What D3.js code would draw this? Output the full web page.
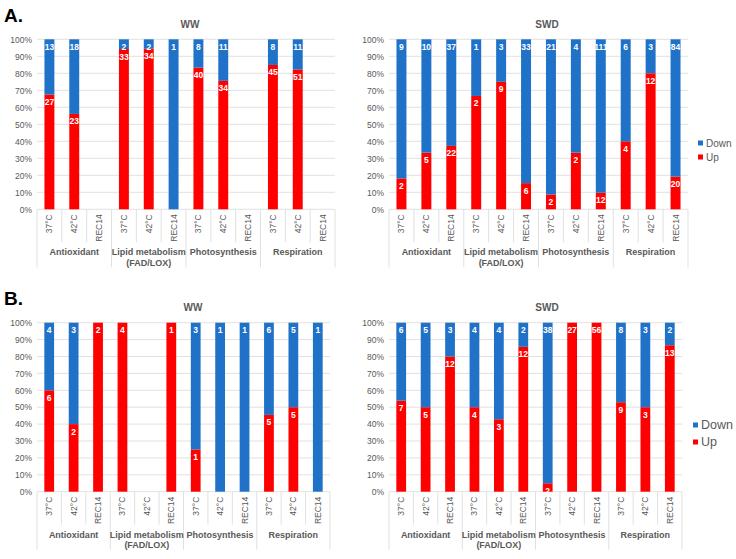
<!DOCTYPE html>
<html><head><meta charset="utf-8">
<script src="https://cdn.jsdelivr.net/npm/d3@7/dist/d3.min.js"></script>
<style>body{margin:0;background:#fff}svg{display:block;font-family:"Liberation Sans",Arial,sans-serif}</style>
</head><body><svg id="c" width="736" height="559"></svg>
<script>
const groups = ["Antioxidant", "Lipid metabolism|(FAD/LOX)", "Photosynthesis", "Respiration"];
const conditions = ["37°C", "42°C", "REC14"];
const yTicks = [0,0.1,0.2,0.3,0.4,0.5,0.6,0.7,0.8,0.9,1];
const seriesNames = ["Down", "Up"];

const aWW_up   = [27,23,0, 33,34,0, 40,34,0, 45,51,0];
const aWW_down = [13,18,0, 2,2,1, 8,11,0, 8,11,0];
const aSWD_up   = [2,5,22, 2,9,6, 2,2,12, 4,12,20];
const aSWD_down = [9,10,37, 1,3,33, 21,4,111, 6,3,84];
const bWW_up   = [6,2,2, 4,0,1, 1,0,0, 5,5,0];
const bWW_down = [4,3,0, 0,0,0, 3,1,1, 6,5,1];
const bSWD_up   = [7,5,12, 4,3,12, 2,27,56, 9,3,13];
const bSWD_down = [6,5,3, 4,4,2, 38,0,0, 8,3,2];

const BLUE = "#1f72c8", RED = "#ff0000", GRAY = "#595959", GRID = "#d9d9d9";
const svg = d3.select("#c");

const panels = [
  {title:"WW", up:aWW_up, down:aWW_down, L:37, R:335, T:39.3, B:209.3, tx:190, ty:28},
  {title:"SWD", up:aSWD_up, down:aSWD_down, L:389, R:688, T:39.3, B:209.3, tx:547, ty:28,
   legend:{x:698, y1:143, y2:157, fs:10, sq:5}},
  {title:"WW", up:bWW_up, down:bWW_down, L:37, R:330, T:322.7, B:491.7, tx:193, ty:311},
  {title:"SWD", up:bSWD_up, down:bSWD_down, L:389, R:682, T:322.7, B:491.7, tx:547, ty:311,
   legend:{x:693, y1:425, y2:442, fs:12.5, sq:5}}
];

svg.append("text").attr("x",4).attr("y",22).attr("font-size",19).attr("font-weight","bold").attr("fill","#000").text("A.");
svg.append("text").attr("x",4).attr("y",305).attr("font-size",19).attr("font-weight","bold").attr("fill","#000").text("B.");

panels.forEach(p => {
  const g = svg.append("g");
  const keys = [];
  groups.forEach(gr => conditions.forEach(c => keys.push(gr + "::" + c)));
  const x = d3.scaleBand().domain(keys).range([p.L, p.R]).paddingInner(0.6).paddingOuter(0.3);
  const y = d3.scaleLinear().domain([0,1]).range([p.B, p.T]);
  const step = x.step();

  // gridlines
  g.selectAll(".grid").data(yTicks).join("line")
    .attr("x1", p.L).attr("x2", p.R).attr("y1", d=>y(d)).attr("y2", d=>y(d))
    .attr("stroke", GRID).attr("stroke-width", 0.8);

  // y axis labels
  const yAxis = d3.axisLeft(y).tickValues(yTicks).tickFormat(d3.format(".0%")).tickSize(0).tickPadding(5);
  const ya = g.append("g").attr("transform", `translate(${p.L},0)`).call(yAxis);
  ya.select(".domain").remove();
  ya.selectAll("text").attr("font-size", 8.5).attr("fill", GRAY).attr("font-family", '"Liberation Sans",Arial,sans-serif');

  // title
  g.append("text").attr("x", p.tx).attr("y", p.ty).attr("text-anchor","middle")
    .attr("font-size", 10).attr("font-weight","bold").attr("fill", GRAY).text(p.title);

  // data
  const rows = keys.map((k,i) => {
    const tot = p.up[i] + p.down[i];
    return {k, up:p.up[i], down:p.down[i], tot};
  });
  rows.forEach(r => {
    if (r.tot === 0) return;
    const fu = r.up / r.tot;
    const bx = x(r.k), bw = x.bandwidth();
    if (r.up > 0) {
      g.append("rect").attr("x", bx).attr("width", bw).attr("y", y(fu)).attr("height", y(0)-y(fu)).attr("fill", RED);
    }
    if (r.down > 0) {
      g.append("rect").attr("x", bx).attr("width", bw).attr("y", y(1)).attr("height", y(fu)-y(1)).attr("fill", BLUE);
    }
    if (r.down > 0) {
      g.append("text").attr("x", bx+bw/2).attr("y", y(1)+10.5).attr("text-anchor","middle")
        .attr("font-size", 8.5).attr("font-weight","bold").attr("fill","#fff").text(r.down);
    }
    if (r.up > 0) {
      g.append("text").attr("x", bx+bw/2).attr("y", y(fu)+10.5).attr("text-anchor","middle")
        .attr("font-size", 8.5).attr("font-weight","bold").attr("fill","#fff").text(r.up);
    }
  });

  // category axis
  const catBottom = p.B + 33, grpBottom = p.B + 58;
  keys.forEach((k,i) => {
    const xl = p.L + i*step;
    const isGroup = i % 3 === 0;
    g.append("line").attr("x1", xl).attr("x2", xl).attr("y1", p.B).attr("y2", isGroup ? grpBottom : catBottom)
      .attr("stroke", GRID).attr("stroke-width", 0.8);
  });
  g.append("line").attr("x1", p.R).attr("x2", p.R).attr("y1", p.B).attr("y2", grpBottom)
    .attr("stroke", GRID).attr("stroke-width", 0.8);
  keys.forEach((k,i) => {
    const cx = x(k) + x.bandwidth()/2;
    g.append("text").attr("transform", `translate(${cx+3},${p.B+5}) rotate(-90)`)
      .attr("text-anchor","end").attr("font-size", 8.5).attr("fill", GRAY).text(k.split("::")[1]);
  });
  groups.forEach((gr,j) => {
    const cx = p.L + (j*3 + 1.5) * step;
    const lines = gr.split("|");
    lines.forEach((ln, li) => {
      g.append("text").attr("x", cx).attr("y", p.B + 46 + li*10.5).attr("text-anchor","middle")
        .attr("font-size", 9).attr("font-weight","bold").attr("fill", GRAY).text(ln);
    });
  });

  if (p.legend) {
    const lg = p.legend;
    [[seriesNames[0], BLUE, lg.y1], [seriesNames[1], RED, lg.y2]].forEach(([n,c,yy]) => {
      g.append("rect").attr("x", lg.x).attr("y", yy - lg.sq/2).attr("width", lg.sq).attr("height", lg.sq).attr("fill", c);
      g.append("text").attr("x", lg.x + lg.sq + 3).attr("y", yy).attr("dy","0.35em")
        .attr("font-size", lg.fs).attr("fill", GRAY).text(n);
    });
  }
});
</script></body></html>
